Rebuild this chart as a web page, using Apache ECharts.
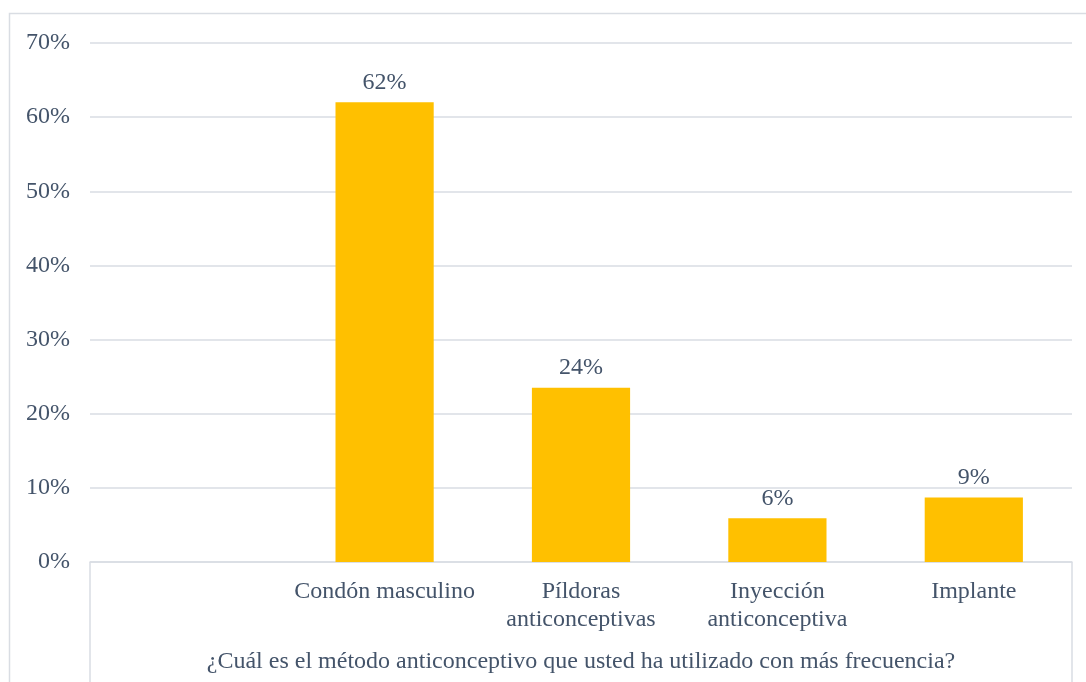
<!DOCTYPE html>
<html>
<head>
<meta charset="utf-8">
<script src="https://cdn.jsdelivr.net/npm/echarts@6/dist/echarts.min.js"></script>
<style>
html,body{margin:0;padding:0;background:#fff;}
#c{width:1086px;height:682px;}
</style>
</head>
<body>
<div id="c"></div>
<script>
const categories = ['', 'Condón masculino', 'Píldoras\nanticonceptivas', 'Inyección\nanticonceptiva', 'Implante'];
const values = [null, 62.0, 23.5, 5.9, 8.7];
const axisTitle = '¿Cuál es el método anticonceptivo que usted ha utilizado con más frecuencia?';
const yTicks = { min: 0, max: 70, interval: 10 };

const textColor = '#44546a';
const lineColor = '#d9dde3';
const font = 'Liberation Serif';

const chart = echarts.init(document.getElementById('c'), null, { renderer: 'canvas' });
chart.setOption({
  backgroundColor: '#ffffff',
  animation: false,
  graphic: [{
    type: 'rect',
    shape: { x: 9.5, y: 13.5, width: 1200, height: 800 },
    style: { fill: 'none', stroke: lineColor, lineWidth: 1.5 },
    silent: true, z: -1
  }],
  grid: { left: 90, right: 14, top: 43, bottom: 120, containLabel: false },
  xAxis: {
    type: 'category',
    data: categories,
    axisLine: { show: true, lineStyle: { color: lineColor, width: 1.5 } },
    axisTick: {
      show: true,
      length: 130,
      interval: function (idx) { return idx === 0; },
      lineStyle: { color: lineColor, width: 1.5 }
    },
    axisLabel: {
      interval: 0,
      color: textColor,
      fontFamily: font,
      fontSize: 24,
      lineHeight: 28,
      margin: 16
    },
    name: axisTitle,
    nameLocation: 'middle',
    nameGap: 88,
    nameTextStyle: { color: textColor, fontFamily: font, fontSize: 24 }
  },
  yAxis: {
    type: 'value',
    min: yTicks.min,
    max: yTicks.max,
    interval: yTicks.interval,
    axisLine: { show: false },
    axisTick: { show: false },
    splitLine: { show: true, lineStyle: { color: lineColor, width: 1.5 } },
    axisLabel: {
      color: textColor,
      fontFamily: font,
      fontSize: 24,
      margin: 20,
      formatter: '{value}%'
    }
  },
  series: [{
    type: 'bar',
    data: values,
    barWidth: '50%',
    itemStyle: { color: '#ffc000' },
    label: {
      show: true,
      position: 'top',
      distance: 8,
      color: textColor,
      fontFamily: font,
      fontSize: 24,
      formatter: function (p) { return p.value == null ? '' : Math.round(p.value) + '%'; }
    }
  }]
});
</script>
</body>
</html>
